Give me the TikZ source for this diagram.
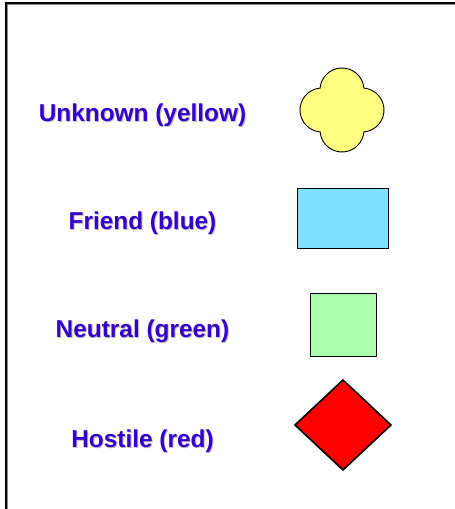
\documentclass[tikz,border=0pt]{standalone}
\usepackage{fontspec}
\setmainfont{Liberation Sans}
\begin{document}
\begin{tikzpicture}[x=1pt,y=1pt,
  lbl/.style={font=\fontsize{24.4}{29}\selectfont\bfseries, text=lblcol, inner sep=0pt},
  shd/.style={font=\fontsize{24.4}{29}\selectfont\bfseries, text=black!25, inner sep=0pt},
  shapeline/.style={draw=black, line width=0.9pt}]
\definecolor{lblcol}{RGB}{51,0,204}
\definecolor{yel}{RGB}{255,255,128}
\definecolor{blu}{RGB}{128,224,255}
\definecolor{grn}{RGB}{170,255,170}
\useasboundingbox (0,0) rectangle (455,509);
\fill[white] (0,0) rectangle (455,509);
% frame
\draw[black!45, line width=1pt] (7,0) -- (7,504.5) -- (455,504.5);
\draw[black, line width=2pt] (6,0) -- (6,506) -- (455,506);
% labels with shadow
\foreach \t/\yy in {{Unknown (yellow)}/394,{Friend (blue)}/286,{Neutral (green)}/178,{Hostile (red)}/68}{
  \node[shd] at (143.5,\yy-1.2) {\t};
}
\node[lbl] (unknown) at (142.5,394) {Unknown (yellow)};
\node[lbl] (friend) at (142.5,286) {Friend (blue)};
\node[lbl] (neutral) at (142.5,178) {Neutral (green)};
\node[lbl] (hostile) at (142.5,68) {Hostile (red)};
% cloverleaf
\coordinate (clover) at (342,399);
\filldraw[shapeline, fill=yel] (clover) ++(21.92,21.92)
  arc[start angle=5,end angle=175,radius=22]
  arc[start angle=95,end angle=265,radius=22]
  arc[start angle=185,end angle=355,radius=22]
  arc[start angle=275,end angle=445,radius=22] -- cycle;
% rectangle
\filldraw[shapeline, fill=blu] (297,261) rectangle (388,321);
% square
\filldraw[shapeline, fill=grn] (310,153) rectangle (376,216);
% diamond
\filldraw[draw=black, line width=1.6pt, fill=red, line join=miter] (295,84) -- (343,129) -- (391,84) -- (343,39) -- cycle;
\end{tikzpicture}
\end{document}
